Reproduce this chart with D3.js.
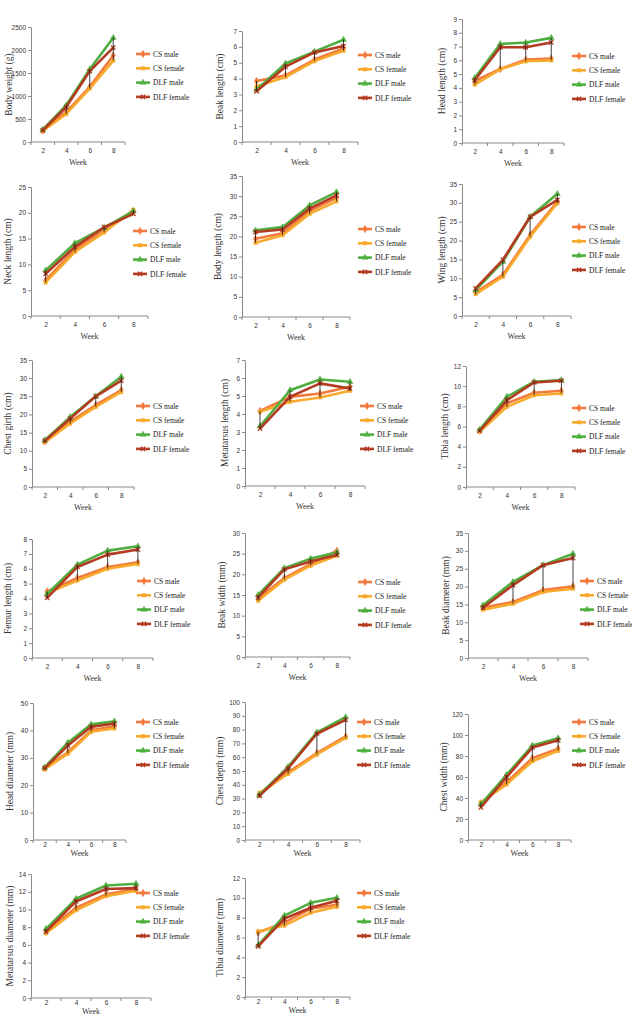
<!DOCTYPE html>
<html>
<head>
<meta charset="utf-8">
<script src="https://cdn.jsdelivr.net/npm/d3@7"></script>
<style>
  body { margin: 0; background: #fff; }
  svg { display: block; font-family: "Liberation Serif", "DejaVu Serif", serif; }
</style>
</head>
<body>
<div id="chart-container"></div>
<script>
const weeks = [2, 4, 6, 8];
const seriesNames = ["CS male", "CS female", "DLF male", "DLF female"];
const seriesColors = ["#f37a3d", "#f8aa2c", "#4fae3f", "#b33b21"];

const traitTitles = [
  "Body weight (g)", "Beak length (cm)", "Head length (cm)",
  "Neck length (cm)", "Body length (cm)", "Wing length (cm)",
  "Chest girth (cm)", "Metatarsus length (cm)", "Tibia length (cm)",
  "Femur length (cm)", "Beak width (mm)", "Beak diameter (mm)",
  "Head diameter (mm)", "Chest depth (mm)", "Chest width (mm)",
  "Metatarsus diameter (mm)", "Tibia diameter (mm)"
];
const yMaxes = [2500, 7, 9, 25, 35, 35, 35, 7, 12, 8, 30, 35, 50, 100, 120, 14, 12];
const ySteps = [500, 1, 1, 5, 5, 5, 5, 1, 2, 1, 5, 5, 10, 10, 20, 2, 2];

// rows: CS male, CS female, DLF male, DLF female
const bodyWeight = [[250, 650, 1200, 1880], [240, 610, 1160, 1770], [270, 800, 1580, 2265], [250, 760, 1540, 2050]];
const beakLength = [[3.85, 4.2, 5.2, 5.9], [3.5, 4.1, 5.1, 5.75], [3.3, 4.95, 5.7, 6.45], [3.2, 4.75, 5.65, 6.05]];
const headLength = [[4.5, 5.37, 6.05, 6.13], [4.24, 5.35, 5.93, 6.0], [4.72, 7.19, 7.29, 7.63], [4.55, 6.95, 6.95, 7.3]];
const neckLength = [[6.9, 12.9, 16.6, 20.3], [6.5, 12.4, 16.2, 20.6], [8.85, 14.1, 17.1, 20.3], [8.2, 13.4, 17.2, 19.8]];
const bodyLength = [[19.4, 20.8, 26.3, 29.6], [18.4, 20.3, 25.6, 28.7], [21.5, 22.3, 27.7, 31.0], [21.1, 21.7, 26.9, 30.2]];
const wingLength = [[6.3, 10.9, 21.5, 30.3], [5.8, 10.4, 21.0, 29.9], [6.9, 14.4, 26.3, 32.4], [7.3, 14.9, 26.3, 30.8]];
const chestGirth = [[12.7, 18.0, 22.6, 26.7], [12.3, 17.5, 22.1, 26.2], [12.9, 19.3, 25.0, 30.4], [12.7, 18.9, 25.0, 29.3]];
const metatarsusLength = [[4.17, 4.95, 5.14, 5.51], [4.12, 4.68, 4.92, 5.29], [3.32, 5.32, 5.92, 5.79], [3.19, 4.95, 5.7, 5.42]];
const tibiaLength = [[5.6, 8.3, 9.35, 9.55], [5.47, 7.95, 9.1, 9.28], [5.7, 8.95, 10.44, 10.6], [5.57, 8.6, 10.37, 10.54]];
const femurLength = [[4.48, 5.38, 6.12, 6.43], [4.37, 5.2, 6.0, 6.32], [4.3, 6.28, 7.22, 7.51], [4.04, 6.12, 6.95, 7.29]];
const beakWidth = [[14.2, 19.1, 22.5, 25.7], [13.6, 18.7, 22.1, 24.5], [15.0, 21.5, 23.8, 25.3], [14.4, 21.2, 23.1, 24.7]];
const beakDiameter = [[14.1, 15.7, 19.0, 20.1], [13.5, 15.2, 18.5, 19.4], [14.75, 21.3, 26.0, 29.2], [14.1, 20.4, 26.0, 28.0]];
const headDiameter = [[26.2, 32.0, 40.0, 41.5], [25.8, 31.5, 39.5, 40.7], [26.5, 35.5, 42.2, 43.3], [26.2, 34.5, 41.3, 42.5]];
const chestDepth = [[33.0, 49.0, 63.0, 75.0], [34.0, 48.0, 62.0, 74.0], [32.6, 53.0, 78.0, 89.0], [32.0, 52.0, 77.0, 87.0]];
const chestWidth = [[35, 55, 78, 87], [36, 53, 75, 85], [34, 62, 90, 97], [31, 60, 88, 95]];
const metatarsusDiameter = [[7.5, 10.2, 11.7, 12.3], [7.3, 9.9, 11.5, 12.1], [7.8, 11.2, 12.7, 12.9], [7.5, 10.9, 12.3, 12.4]];
const tibiaDiameter = [[6.5, 7.5, 8.9, 9.3], [6.6, 7.2, 8.5, 9.1], [5.2, 8.2, 9.5, 10.0], [5.1, 7.9, 9.0, 9.7]];

const traitValues = [
  bodyWeight, beakLength, headLength, neckLength, bodyLength, wingLength,
  chestGirth, metatarsusLength, tibiaLength, femurLength, beakWidth, beakDiameter,
  headDiameter, chestDepth, chestWidth, metatarsusDiameter, tibiaDiameter
];

// panel geometry: axis left, axis right, top (max), bottom (0), legend x, legend y, y-title x,
// tick padding and Week offset (bottom rows of the figure are squeezed)
const panelBoxes = [
  { ax: 31, ar: 125, top: 27, bottom: 142, legX: 136, legY: 54, labX: 9, pad: 6, wk: 23 },
  { ax: 242, ar: 358, top: 31, bottom: 142, legX: 358, legY: 55, labX: 220, pad: 6, wk: 23 },
  { ax: 462, ar: 564, top: 19, bottom: 143, legX: 572, legY: 56, labX: 442, pad: 6, wk: 23 },
  { ax: 31, ar: 148, top: 187, bottom: 316, legX: 133, legY: 231, labX: 8, pad: 6, wk: 23 },
  { ax: 242, ar: 350, top: 176, bottom: 317, legX: 358, legY: 229, labX: 218, pad: 6, wk: 23 },
  { ax: 462, ar: 571, top: 184, bottom: 316, legX: 572, legY: 227, labX: 442, pad: 6, wk: 23 },
  { ax: 32, ar: 134, top: 360, bottom: 487, legX: 136, legY: 406, labX: 8, pad: 6, wk: 23 },
  { ax: 245, ar: 365, top: 360, bottom: 486, legX: 360, legY: 406, labX: 225, pad: 6, wk: 23 },
  { ax: 466, ar: 575, top: 366, bottom: 487, legX: 572, legY: 408, labX: 445, pad: 6, wk: 23 },
  { ax: 32, ar: 153, top: 539, bottom: 658, legX: 137, legY: 581, labX: 8, pad: 6, wk: 23 },
  { ax: 245, ar: 350, top: 533, bottom: 657, legX: 358, legY: 582, labX: 222, pad: 6, wk: 23 },
  { ax: 468, ar: 588, top: 533, bottom: 658, legX: 580, legY: 581, labX: 446, pad: 6, wk: 23 },
  { ax: 33, ar: 126, top: 703, bottom: 840, legX: 136, legY: 722, labX: 10, pad: 2, wk: 16 },
  { ax: 245, ar: 360, top: 702, bottom: 840, legX: 357, legY: 722, labX: 220, pad: 2, wk: 16 },
  { ax: 468, ar: 571, top: 714, bottom: 840, legX: 572, legY: 722, labX: 444, pad: 2, wk: 16 },
  { ax: 31, ar: 151, top: 874, bottom: 998, legX: 136, legY: 893, labX: 10, pad: 2, wk: 16 },
  { ax: 245, ar: 350, top: 878, bottom: 997, legX: 357, legY: 893, labX: 220, pad: 2, wk: 16 }
];

const symbols = [d3.symbolDiamond, d3.symbolSquare, d3.symbolTriangle, d3.symbolX];
const symbolSizes = [16, 12, 15, 14];

const svg = d3.select("#chart-container")
  .append("svg")
  .attr("width", 632)
  .attr("height", 1018);

const drawMarker = (g, i, x, y) => {
  const filled = i < 3;
  g.append("path")
    .attr("transform", `translate(${x},${y})`)
    .attr("d", d3.symbol(symbols[i], symbolSizes[i])())
    .attr("fill", filled ? seriesColors[i] : "none")
    .attr("stroke", seriesColors[i])
    .attr("stroke-width", filled ? 0.5 : 1.3);
};

const drawPanel = (k) => {
  const b = panelBoxes[k];
  const values = traitValues[k];
  const g = svg.append("g");

  const x = d3.scalePoint().domain(weeks).range([b.ax, b.ar]).padding(0.5);
  const y = d3.scaleLinear().domain([0, yMaxes[k]]).range([b.bottom, b.top]);

  // y axis
  const yAxis = g.append("g")
    .attr("transform", `translate(${b.ax},0)`)
    .call(d3.axisLeft(y)
      .tickValues(d3.range(0, yMaxes[k] + ySteps[k] / 2, ySteps[k]))
      .tickFormat(d => String(d))
      .tickSize(3).tickSizeOuter(0));
  yAxis.select(".domain").attr("stroke", "#8a8a8a");
  yAxis.selectAll(".tick line").attr("stroke", "#8a8a8a");
  yAxis.selectAll("text").style("font-size", "6.5px").attr("fill", "#333").attr("x", -5);

  // x axis
  const xAxis = g.append("g")
    .attr("transform", `translate(0,${b.bottom})`)
    .call(d3.axisBottom(x).tickSize(0).tickPadding(b.pad));
  xAxis.select(".domain").attr("stroke", "#8a8a8a").attr("d", `M${b.ax},0H${b.ar}`);
  xAxis.selectAll("text").style("font-size", "6.5px").attr("fill", "#333");
  const step = x.step();
  xAxis.selectAll(".bound")
    .data(d3.range(5))
    .enter().append("line")
    .attr("x1", d => b.ax + d * step)
    .attr("x2", d => b.ax + d * step)
    .attr("y1", 0).attr("y2", 3)
    .attr("stroke", "#8a8a8a");

  // axis titles
  g.append("text")
    .attr("x", (b.ax + b.ar) / 2)
    .attr("y", b.bottom + b.wk)
    .attr("text-anchor", "middle")
    .style("font-size", "8px")
    .attr("fill", "#333")
    .text("Week");

  g.append("text")
    .attr("transform", `translate(${b.labX + 3},${(b.top + b.bottom) / 2}) rotate(-90)`)
    .attr("text-anchor", "middle")
    .style("font-size", "9.5px")
    .attr("fill", "#333")
    .text(traitTitles[k]);

  // series lines
  const line = d3.line().x((d, j) => x(weeks[j])).y(d => y(d));
  values.forEach((row, i) => {
    g.append("path")
      .datum(row)
      .attr("d", line)
      .attr("fill", "none")
      .attr("stroke", seriesColors[i])
      .attr("stroke-width", 2.6)
      .attr("stroke-linejoin", "round");
    row.forEach((v, j) => drawMarker(g, i, x(weeks[j]), y(v)));
  });

  // high-low lines
  weeks.forEach((w, j) => {
    const col = values.map(r => r[j]);
    g.append("line")
      .attr("x1", x(w)).attr("x2", x(w))
      .attr("y1", y(d3.min(col))).attr("y2", y(d3.max(col)))
      .attr("stroke", "#111")
      .attr("stroke-width", 0.8);
  });

  // legend
  const legend = g.append("g").attr("transform", `translate(${b.legX},${b.legY})`);
  seriesNames.forEach((name, i) => {
    const ly = i * 14.3;
    legend.append("line")
      .attr("x1", 0).attr("x2", 14)
      .attr("y1", ly).attr("y2", ly)
      .attr("stroke", seriesColors[i])
      .attr("stroke-width", 2.6);
    drawMarker(legend, i, 7, ly);
    legend.append("text")
      .attr("x", 17)
      .attr("y", ly)
      .attr("dy", "0.35em")
      .style("font-size", "7.5px")
      .attr("fill", "#222")
      .text(name);
  });
};

traitValues.forEach((v, k) => drawPanel(k));
</script>
</body>
</html>
